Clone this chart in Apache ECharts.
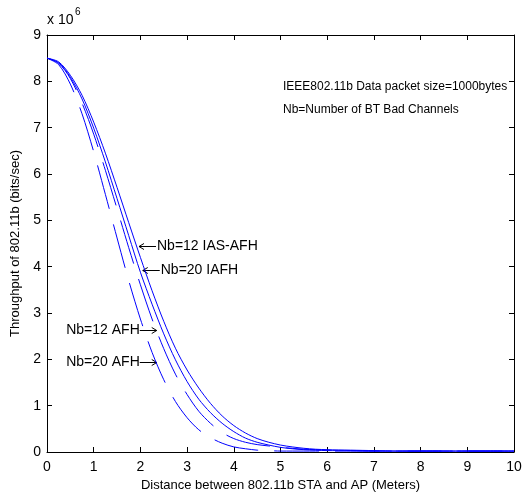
<!DOCTYPE html>
<html><head><meta charset="utf-8">
<script src="https://cdn.jsdelivr.net/npm/echarts@6/dist/echarts.min.js"></script>
<style>html,body{margin:0;padding:0;background:#fff}#c{width:531px;height:494px}</style>
</head><body><div id="c"></div>
<script>
// Distance (m)
const distance = [0,0.25,0.5,0.75,1,1.25,1.5,1.75,2,2.25,2.5,2.75,3,3.25,3.5,3.75,4,4.25,4.5,4.75,5,5.25,5.5,5.75,6,6.5,7,7.5,8,8.5,9,9.5,10];
// Throughput in units of 10^6 bits/sec
const iasAfh12 = [8.50,8.42,8.13,7.70,7.12,6.45,5.71,4.95,4.20,3.48,2.82,2.24,1.77,1.38,1.05,0.78,0.57,0.41,0.29,0.21,0.15,0.11,0.08,0.06,0.05,0.04,0.03,0.02,0.02,0.02,0.02,0.02,0.02];
const iafh20   = [8.50,8.40,8.09,7.62,6.99,6.26,5.47,4.67,3.88,3.19,2.55,1.99,1.52,1.14,0.85,0.62,0.44,0.30,0.21,0.15,0.10,0.07,0.05,0.04,0.03,0.03,0.02,0.02,0.02,0.02,0.02,0.02,0.02];
const afh12    = [8.50,8.39,8.06,7.53,6.86,6.08,5.25,4.41,3.61,2.87,2.23,1.68,1.24,0.88,0.62,0.42,0.29,0.21,0.16,0.13,0.10,0.08,0.06,0.05,0.04,0.03,0.02,0.02,0.02,0.02,0.02,0.02,0.02];
const afh20    = [8.50,8.36,7.94,7.30,6.48,5.56,4.62,3.70,2.87,2.15,1.56,1.09,0.74,0.48,0.31,0.19,0.11,0.07,0.04,0.03,0.02,0.02,0.02,0.02,0.02,0.02,0.02,0.02,0.02,0.02,0.02,0.02,0.02];
const seriesNames = ['Nb=12 IAS-AFH','Nb=20 IAFH','Nb=12 AFH','Nb=20 AFH'];
const seriesDashed = [false,false,true,true];
const xTickLabels = ['0','1','2','3','4','5','6','7','8','9','10'];
const yTickLabels = ['0','1','2','3','4','5','6','7','8','9'];
const xTitle = 'Distance between 802.11b STA and AP (Meters)';
const yTitle = 'Throughput of 802.11b (bits/sec)';
const noteLines = ['IEEE802.11b Data packet size=1000bytes','Nb=Number of BT Bad Channels'];
// annotation arrow tips (data coords) and text side
const annoX = [1.97, 2.05, 2.35, 2.35];
const annoY = [4.45, 3.93, 2.63, 1.94];
const annoSide = ['right','right','left','left'];

const FONT = 'Liberation Sans, Arial, Helvetica, sans-serif';
const allSeries = [iasAfh12, iafh20, afh12, afh20];

const chart = echarts.init(document.getElementById('c'), null, {renderer:'canvas'});
const axisCommon = {
  type:'value', splitLine:{show:false},
  axisLine:{show:true, onZero:false, lineStyle:{color:'#000', width:1}},
  axisTick:{show:true, inside:true, length:5, lineStyle:{color:'#000'}}
};
const option = {
  backgroundColor:'#fff',
  animation:false,
  grid:{left:47, right:17, top:35, bottom:42, containLabel:false, outerBoundsMode:'none'},
  xAxis:[
    Object.assign({}, axisCommon, {min:0, max:10, interval:1, position:'bottom',
      name:xTitle, nameLocation:'middle', nameGap:27,
      nameTextStyle:{fontFamily:FONT, fontSize:13, color:'#000'},
      axisLabel:{fontFamily:FONT, fontSize:14, color:'#000', margin:8,
        formatter:(v)=>xTickLabels[Math.round(v)]}}),
    Object.assign({}, axisCommon, {min:0, max:10, interval:1, position:'top', axisLabel:{show:false}})
  ],
  yAxis:[
    Object.assign({}, axisCommon, {min:0, max:9, interval:1, position:'left',
      name:yTitle, nameLocation:'middle', nameGap:20, nameRotate:90,
      nameTextStyle:{fontFamily:FONT, fontSize:13, color:'#000'},
      axisLabel:{fontFamily:FONT, fontSize:14, color:'#000', margin:6,
        formatter:(v)=>yTickLabels[Math.round(v)]}}),
    Object.assign({}, axisCommon, {min:0, max:9, interval:1, position:'right', axisLabel:{show:false}})
  ],
  series: allSeries.map((arr,i)=>({
    name:seriesNames[i], type:'line', xAxisIndex:0, yAxisIndex:0,
    data: distance.map((d,k)=>[d, arr[k]]),
    showSymbol:false, symbol:'none', smooth:0.3,
    lineStyle:{color:'#0000ff', width:1, type: seriesDashed[i] ? [45,16] : 'solid'},
    z:3
  }))
};
chart.setOption(option);

const g = [];
// x 10^6 exponent label
g.push({type:'text', left:47, top:13, style:{text:'x 10', font:'14px '+FONT, fill:'#000'}});
g.push({type:'text', left:75, top:7, style:{text:'6', font:'10px '+FONT, fill:'#000'}});
// notes
noteLines.forEach((t,i)=>{
  g.push({type:'text', x:283, y:87+i*23, style:{text:t, font:'12px '+FONT, fill:'#000', textVerticalAlign:'middle'}});
});
// annotations
seriesNames.forEach((name,i)=>{
  const p = chart.convertToPixel({gridIndex:0}, [annoX[i], annoY[i]]);
  const tx = p[0], ty = Math.round(p[1])+0.5;
  const len = 17;
  if (annoSide[i]==='right') {
    g.push({type:'polyline', shape:{points:[[tx,ty],[tx+len,ty]]}, style:{stroke:'#000', lineWidth:1}});
    g.push({type:'polyline', shape:{points:[[tx+5,ty-3],[tx,ty],[tx+5,ty+3]]}, style:{stroke:'#000', lineWidth:1, fill:null}});
    g.push({type:'text', x:tx+len+1, y:ty, style:{text:name, font:'14px '+FONT, fill:'#000', textVerticalAlign:'middle', textAlign:'left'}});
  } else {
    g.push({type:'polyline', shape:{points:[[tx-len,ty],[tx,ty]]}, style:{stroke:'#000', lineWidth:1}});
    g.push({type:'polyline', shape:{points:[[tx-5,ty-3],[tx,ty],[tx-5,ty+3]]}, style:{stroke:'#000', lineWidth:1, fill:null}});
    g.push({type:'text', x:tx-len, y:ty, style:{text:name, font:'14px '+FONT, fill:'#000', textVerticalAlign:'middle', textAlign:'right'}});
  }
});
chart.setOption({graphic:g});
</script></body></html>
